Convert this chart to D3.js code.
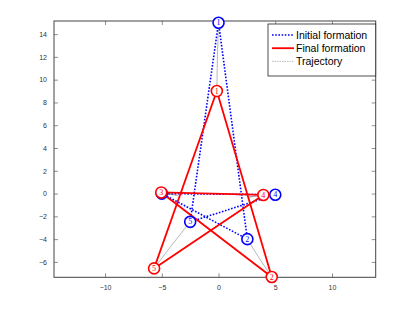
<!DOCTYPE html>
<html><head><meta charset="utf-8">
<script src="https://cdn.jsdelivr.net/npm/d3@7"></script>
<style>body{margin:0;background:#fff}svg{display:block}</style>
</head><body>
<svg id="c" width="415" height="312"></svg>
<script>
const agents = ["1","2","3","4","5"];
const initialX = [0, 2.54, -5.0, 5.0, -2.5];
const initialY = [15.0, -4.0, 0.0, -0.1, -2.48];
const finalX = [-0.15, 4.69, -5.05, 3.95, -5.68];
const finalY = [9.0, -7.32, 0.1, -0.12, -6.57];
// intermediate trajectory points (per agent)
const trajMidX = [-0.1, 3.6, -3.6, 2.7, -4.1];
const trajMidY = [12.0, -5.7, -0.15, -0.3, -4.5];
const edges = [[0,1],[1,2],[2,3],[3,4],[4,0]];
const xTicks = [-10,-5,0,5,10];
const yTicks = [-6,-4,-2,0,2,4,6,8,10,12,14];
const legendLabels = ["Initial formation","Final formation","Trajectory"];

const svg = d3.select("#c");
const L=54, R=375.7, T=21, B=277.3;
const x = d3.scaleLinear().domain([-14.5,13.85]).range([L,R]);
const y = d3.scaleLinear().domain([-7.35,15.15]).range([B,T]);

svg.append("rect").attr("x",L).attr("y",T).attr("width",R-L).attr("height",B-T).attr("fill","#fff");

const axisColor="#444";
function styleAxis(g){
  g.select(".domain").remove();
  g.selectAll(".tick line").attr("stroke",axisColor).attr("stroke-width",0.6);
  g.selectAll(".tick text").attr("fill","#333").style("font-family","Liberation Sans, Arial, sans-serif").style("font-size","7px");
}
svg.append("g").attr("transform",`translate(0,${B})`)
  .call(d3.axisBottom(x).tickValues(xTicks).tickSize(-4).tickPadding(8).tickFormat(d3.format("d"))).call(styleAxis);
svg.append("g").attr("transform",`translate(0,${T})`)
  .call(d3.axisTop(x).tickValues(xTicks).tickSize(-4).tickFormat("")).call(styleAxis);
svg.append("g").attr("transform",`translate(${L},0)`)
  .call(d3.axisLeft(y).tickValues(yTicks).tickSize(-4).tickPadding(7).tickFormat(d3.format("d"))).call(styleAxis);
svg.append("g").attr("transform",`translate(${R},0)`)
  .call(d3.axisRight(y).tickValues(yTicks).tickSize(-4).tickFormat("")).call(styleAxis);

svg.append("rect").attr("x",L).attr("y",T).attr("width",R-L).attr("height",B-T)
  .attr("fill","none").attr("stroke",axisColor).attr("stroke-width",1);

const plot = svg.append("g");
// trajectories
const line = d3.line().x(d=>x(d[0])).y(d=>y(d[1]));
agents.forEach((a,i)=>{
  const pts=[[initialX[i],initialY[i]],[trajMidX[i],trajMidY[i]],[finalX[i],finalY[i]]];
  plot.append("path").attr("d",line(pts)).attr("fill","none")
    .attr("stroke","#999").attr("stroke-width",0.7);
});
// initial formation
edges.forEach(([a,b])=>{
  plot.append("line").attr("x1",x(initialX[a])).attr("y1",y(initialY[a]))
    .attr("x2",x(initialX[b])).attr("y2",y(initialY[b]))
    .attr("stroke","#0000ff").attr("stroke-width",1.6).attr("stroke-dasharray","1.6,1.6");
});
// final formation
edges.forEach(([a,b])=>{
  plot.append("line").attr("x1",x(finalX[a])).attr("y1",y(finalY[a]))
    .attr("x2",x(finalX[b])).attr("y2",y(finalY[b]))
    .attr("stroke","#ff0000").attr("stroke-width",1.8);
});
function nodes(xs,ys,col){
  agents.forEach((a,i)=>{
    const g=plot.append("g").attr("transform",`translate(${x(xs[i])},${y(ys[i])})`);
    g.append("circle").attr("r",5.5).attr("fill","#fff").attr("stroke",col).attr("stroke-width",1.6);
    g.append("text").text(a).attr("text-anchor","middle").attr("dy","0.33em")
      .attr("fill",col).style("font-family","Liberation Serif, Times New Roman, serif").style("font-size","8px");
  });
}
nodes(initialX,initialY,"#0000ff");
nodes(finalX,finalY,"#ff0000");

// legend
const lg=svg.append("g");
const lx=268, ly=24, lw=R-268, lh=52;
lg.append("rect").attr("x",lx).attr("y",ly).attr("width",lw).attr("height",lh)
  .attr("fill","#fff").attr("stroke","#222").attr("stroke-width",0.8);
const lStyles=[{c:"#0000ff",w:1.6,d:"1.6,1.6"},{c:"#ff0000",w:1.8,d:null},{c:"#aaa",w:0.8,d:"1.5,1"}];
legendLabels.forEach((t,i)=>{
  const yy=ly+11+i*13.2;
  lg.append("line").attr("x1",lx+4).attr("x2",lx+26).attr("y1",yy).attr("y2",yy)
    .attr("stroke",lStyles[i].c).attr("stroke-width",lStyles[i].w).attr("stroke-dasharray",lStyles[i].d);
  lg.append("text").attr("x",lx+28).attr("y",yy).attr("dy","0.35em").text(t)
    .style("font-family","Liberation Sans, Arial, sans-serif").style("font-size","10.5px").attr("fill","#000");
});
</script>
</body></html>
